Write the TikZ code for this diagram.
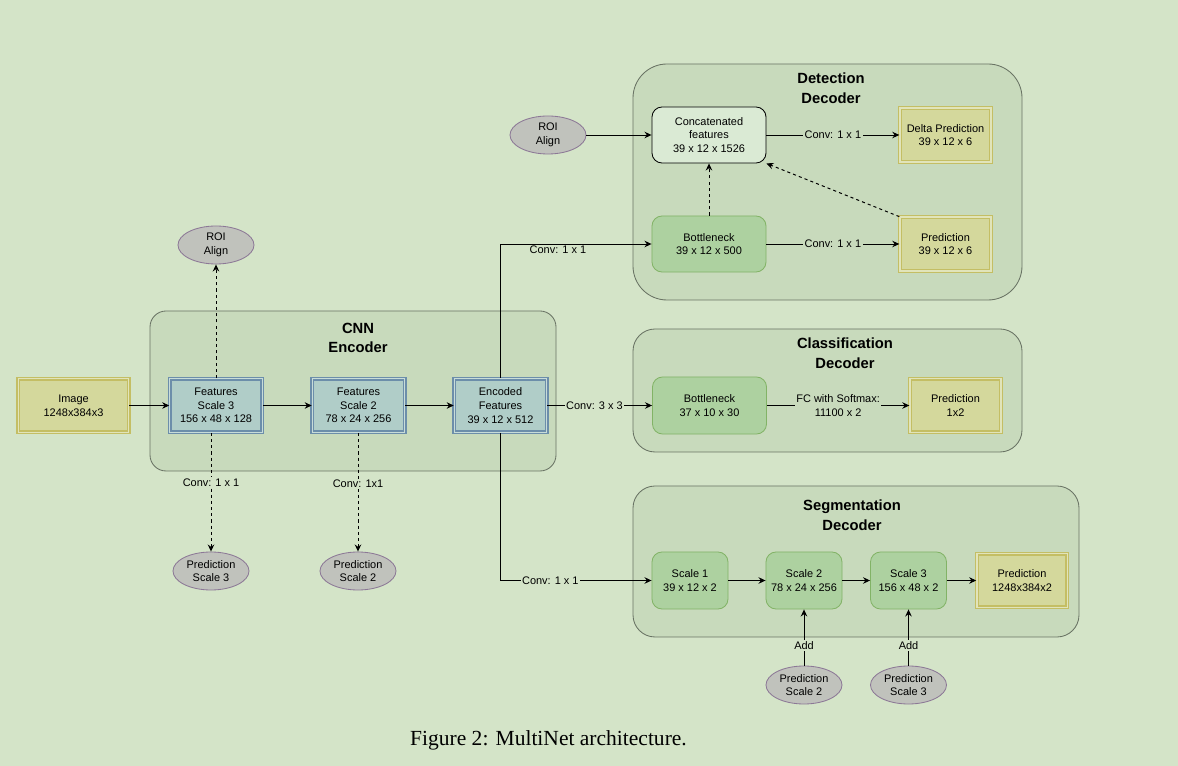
\documentclass[tikz,border=0pt]{standalone}
\usepackage{fontspec}
\setmainfont{Liberation Sans}
\newfontfamily\capfont{Liberation Serif}
\usetikzlibrary{arrows.meta,shapes.geometric}

\definecolor{bgcol}{RGB}{212,228,200}
\definecolor{boxcol}{RGB}{200,218,188}
\definecolor{boxline}{RGB}{105,115,100}
\definecolor{yfill}{RGB}{212,216,156}
\definecolor{yline}{RGB}{196,190,100}
\definecolor{bfill}{RGB}{176,205,200}
\definecolor{bline}{RGB}{108,142,170}
\definecolor{gfill}{RGB}{173,209,160}
\definecolor{gline}{RGB}{130,179,102}
\definecolor{cfill}{RGB}{218,234,212}
\definecolor{efill}{RGB}{192,194,188}
\definecolor{eline}{RGB}{140,120,150}

\tikzset{
    cont/.style={draw=boxline, fill=boxcol, line width=0.6pt},
    title/.style={font=\fontsize{10.5}{14}\selectfont\bfseries, align=center},
    ybox/.style={draw=yline, line width=0.8pt, double=yfill!70!white, double distance=1pt,
        fill=yfill, minimum width=2.28cm, minimum height=1.34cm, inner sep=1pt, align=center},
    bbox/.style={draw=bline, line width=0.8pt, double=bfill!70!white, double distance=1pt,
        fill=bfill, minimum width=2.31cm, minimum height=1.34cm, inner sep=1pt, align=center},
    gbox/.style={draw=gline, line width=0.6pt, fill=gfill, rounded corners=0.25cm,
        minimum width=2.85cm, minimum height=1.4cm, inner sep=1pt, align=center},
    ell/.style={ellipse, draw=eline, line width=0.6pt, fill=efill,
        minimum width=1.9cm, minimum height=0.95cm, inner sep=0pt, align=center},
    lbl/.style={inner sep=1pt, align=center},
    conn/.style={line width=0.7pt, ->},
    dconn/.style={line width=0.7pt, ->, dash pattern=on 2.2pt off 2.2pt}
}

\begin{document}
\begin{tikzpicture}[x=0.025cm, y=-0.025cm, font=\fontsize{7.8}{9.8}\selectfont,
        >={Stealth[length=5pt,width=4.6pt]}]
    \fill[bgcol] (0,0) rectangle (1178,766);

    % containers
    \draw[cont, rounded corners=0.4cm] (150,311) rectangle (556,471);
    \draw[cont, rounded corners=0.85cm] (633,64) rectangle (1022,300);
    \draw[cont, rounded corners=0.55cm] (633,329) rectangle (1022,452);
    \draw[cont, rounded corners=0.55cm] (633,486) rectangle (1079,637);

    \node[title] (enctitle) at (358,338) {CNN\\Encoder};
    \node[title] (dettitle) at (831,88.5) {Detection\\Decoder};
    \node[title] (clstitle) at (845,353) {Classification\\Decoder};
    \node[title] (segtitle) at (852,515.5) {Segmentation\\Decoder};

    % encoder
    \node[ybox, minimum width=2.76cm] (img) at (73.5,405.5) {Image\\1248x384x3};
    \node[bbox] (fs3) at (216,405.5) {Features\\Scale 3\\156 x 48 x 128};
    \node[bbox] (fs2) at (358.5,405.5) {Features\\Scale 2\\78 x 24 x 256};
    \node[bbox] (enc) at (500.5,405.5) {Encoded\\Features\\39 x 12 x 512};

    \node[ell] (roi1) at (216,245) {ROI\\Align};
    \node[ell] (ps3) at (211,571) {Prediction\\Scale 3};
    \node[ell] (ps2) at (358,571) {Prediction\\Scale 2};

    % detection
    \node[ell] (roi2) at (548,135) {ROI\\Align};
    \node[gbox, draw=black, fill=cfill] (cat) at (709,135) {Concatenated\\features\\39 x 12 x 1526};
    \node[ybox] (delta) at (945.5,135) {Delta Prediction\\39 x 12 x 6};
    \node[gbox] (bdet) at (709,244) {Bottleneck\\39 x 12 x 500};
    \node[ybox] (pdet) at (945.5,244) {Prediction\\39 x 12 x 6};

    % classification
    \node[gbox, minimum height=1.425cm] (bcls) at (709.5,405.5) {Bottleneck\\37 x 10 x 30};
    \node[ybox] (pcls) at (955.5,405.5) {Prediction\\1x2};

    % segmentation
    \node[gbox, minimum width=1.9cm, minimum height=1.425cm] (s1) at (690,580.5) {Scale 1\\39 x 12 x 2};
    \node[gbox, minimum width=1.9cm, minimum height=1.425cm] (s2) at (804,580.5) {Scale 2\\78 x 24 x 256};
    \node[gbox, minimum width=1.9cm, minimum height=1.425cm] (s3) at (908.5,580.5) {Scale 3\\156 x 48 x 2};
    \node[ybox, minimum width=2.26cm] (spred) at (1022,580.5) {Prediction\\1248x384x2};
    \node[ell] (sp2) at (804,685) {Prediction\\Scale 2};
    \node[ell] (sp3) at (908.5,685) {Prediction\\Scale 3};

    \node[font=\capfont\fontsize{15.3}{18}\selectfont] (cap) at (548.5,740) {Figure 2: MultiNet architecture.};

    % connectors
    \draw[conn] (img) -- (fs3);
    \draw[conn] (fs3) -- (fs2);
    \draw[conn] (fs2) -- (enc);
    \draw[dconn] (fs3.north) -- (roi1.south);
    \draw[dconn] (fs3.south -| ps3.north) -- node[lbl, fill=bgcol, pos=0.42] {Conv: 1 x 1} (ps3.north);
    \draw[dconn] (fs2.south -| ps2.north) -- node[lbl, fill=bgcol, pos=0.43] {Conv: 1x1} (ps2.north);

    \draw[conn] (enc.north) |- node[lbl, pos=0.69, below=0pt] {Conv: 1 x 1} (bdet.west);
    \draw[conn] (enc) -- node[lbl, fill=bgcol, pos=0.45] {Conv: 3 x 3} (bcls);
    \draw[conn] (enc.south) |- node[lbl, fill=bgcol, pos=0.665] {Conv: 1 x 1} (s1.west);

    \draw[conn] (roi2) -- (cat);
    \draw[conn] (cat) -- node[lbl, fill=boxcol] {Conv: 1 x 1} (delta);
    \draw[conn] (bdet) -- node[lbl, fill=boxcol] {Conv: 1 x 1} (pdet);
    \draw[dconn] (bdet) -- (cat);
    \draw[dconn] (pdet.north west) -- (cat.south east);

    \draw[conn] (bcls) -- node[lbl, fill=boxcol] {FC with Softmax:\\11100 x 2} (pcls);

    \draw[conn] (s1) -- (s2);
    \draw[conn] (s2) -- (s3);
    \draw[conn] (s3) -- (spred);
    \draw[conn] (sp2) -- node[lbl, fill=bgcol, pos=0.35] {Add} (s2);
    \draw[conn] (sp3) -- node[lbl, fill=bgcol, pos=0.35] {Add} (s3);
\end{tikzpicture}
\end{document}
